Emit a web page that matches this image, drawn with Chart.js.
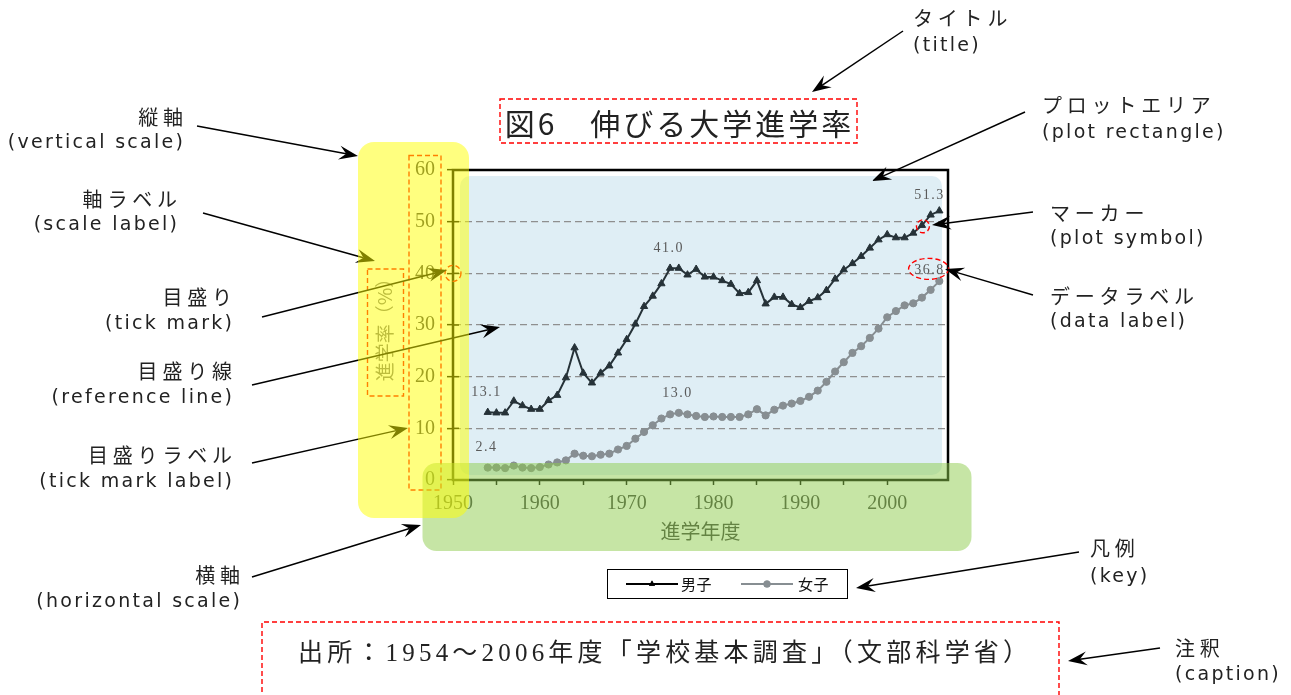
<!DOCTYPE html>
<html><head><meta charset="utf-8">
<script src="https://cdn.jsdelivr.net/npm/chart.js@4.4.0/dist/chart.umd.min.js"></script>
<style>html,body{margin:0;padding:0;background:#fff;overflow:hidden}#wrap{position:relative;width:1291px;height:695px}canvas{display:block}</style>
</head><body><div id="wrap"><canvas id="c" width="1291" height="695"></canvas></div>
<script>
// ---------- data ----------
const years = [1954,1955,1956,1957,1958,1959,1960,1961,1962,1963,
  1964,1965,1966,1967,1968,1969,1970,1971,1972,1973,
  1974,1975,1976,1977,1978,1979,1980,1981,1982,1983,
  1984,1985,1986,1987,1988,1989,1990,1991,1992,1993,
  1994,1995,1996,1997,1998,1999,2000,2001,2002,2003,
  2004,2005,2006];
const maleRate = [13.1,13.0,13.0,15.3,14.4,13.7,13.7,15.4,16.4,19.8,
  25.6,20.7,18.8,20.7,22.1,24.6,27.2,30.2,33.6,35.6,
  38.0,41.0,41.0,39.7,40.8,39.3,39.3,38.6,37.9,36.1,
  36.3,38.6,34.1,35.4,35.4,34.0,33.4,34.6,35.3,36.7,
  38.9,40.7,41.9,43.3,44.9,46.5,47.5,46.9,46.9,47.8,
  49.3,51.3,52.1];
const femaleRate = [2.4,2.4,2.3,2.8,2.4,2.3,2.5,3.0,3.4,3.8,
  5.1,4.7,4.6,4.9,5.1,5.9,6.6,8.0,9.3,10.6,
  11.9,12.7,13.0,12.7,12.4,12.2,12.3,12.2,12.2,12.2,
  12.7,13.7,12.5,13.6,14.4,14.8,15.3,16.1,17.3,19.0,
  21.0,22.8,24.6,25.9,27.5,29.3,31.5,32.7,33.8,34.2,
  35.3,36.8,38.5];
const seriesNames = ['男子','女子'];
const xTickLabels = ['1950','1960','1970','1980','1990','2000'];
const yTickValues = [0,10,20,30,40,50,60];
const labelYearsMale = [1954,1975,2005];
const labelYearsFemale = [1954,1976,2005];
const titleText = '図6　伸びる大学進学率';
const yAxisTitle = '進学率（%）';
const xAxisTitle = '進学年度';
const captionText = '出所：1954～2006年度「学校基本調査」（文部科学省）';

// ---------- styles ----------
const JP = '"Noto Sans CJK JP", sans-serif';
const LAT = '"DejaVu Sans", "Noto Sans CJK JP", sans-serif';
const SERIF = '"Liberation Serif", "Noto Sans CJK JP", serif';
const MALE_COLOR = '#263238';
const FEMALE_COLOR = '#878e92';

function txt(ctx, s, x, y, font, color, align, spacing) {
  ctx.save();
  ctx.font = font; ctx.fillStyle = color; ctx.textAlign = align || 'left'; ctx.textBaseline = 'middle';
  spacing = spacing || 0;
  if ('letterSpacing' in ctx) ctx.letterSpacing = spacing + 'px';
  let xx = x;
  if (align === 'right') xx += spacing; else if (align === 'center') xx += spacing / 2;
  ctx.fillText(s, xx, y);
  ctx.restore();
}
function rr(ctx, x, y, w, h, r) {
  ctx.beginPath();
  if (ctx.roundRect) ctx.roundRect(x, y, w, h, r);
  else { ctx.moveTo(x + r, y); ctx.arcTo(x + w, y, x + w, y + h, r); ctx.arcTo(x + w, y + h, x, y + h, r); ctx.arcTo(x, y + h, x, y, r); ctx.arcTo(x, y, x + w, y, r); ctx.closePath(); }
}
function redDash(ctx) { ctx.strokeStyle = '#ff0000'; ctx.lineWidth = 1.4; ctx.setLineDash([5, 3]); }
function arrow(ctx, x1, y1, x2, y2) {
  const a = Math.atan2(y2 - y1, x2 - x1);
  const L = 19, Wd = 7, N = 12;
  ctx.save();
  ctx.strokeStyle = '#000'; ctx.fillStyle = '#000'; ctx.lineWidth = 1.5; ctx.setLineDash([]);
  ctx.beginPath(); ctx.moveTo(x1, y1); ctx.lineTo(x2 - Math.cos(a) * N, y2 - Math.sin(a) * N); ctx.stroke();
  ctx.translate(x2, y2); ctx.rotate(a);
  ctx.beginPath(); ctx.moveTo(0, 0); ctx.lineTo(-L, -Wd); ctx.lineTo(-N, 0); ctx.lineTo(-L, Wd); ctx.closePath(); ctx.fill();
  ctx.restore();
}

const leftNotes = [
  ['縦軸', '(vertical scale)', 183, 117, 143],
  ['軸ラベル', '(scale label)', 177, 199, 225],
  ['目盛り', '(tick mark)', 232, 297, 324],
  ['目盛り線', '(reference line)', 232, 371, 398],
  ['目盛りラベル', '(tick mark label)', 232, 455, 482],
  ['横軸', '(horizontal scale)', 240, 575, 602]
];
const rightNotes = [
  ['タイトル', '(title)', 913, 18, 46],
  ['プロットエリア', '(plot rectangle)', 1042, 105, 133],
  ['マーカー', '(plot symbol)', 1050, 213, 239],
  ['データラベル', '(data label)', 1050, 296, 322],
  ['凡例', '(key)', 1090, 548, 577],
  ['注釈', '(caption)', 1175, 648, 675]
];

const decor = {
  id: 'decor',
  beforeDraw(chart) {
    const ctx = chart.ctx, a = chart.chartArea;
    ctx.save();
    ctx.fillStyle = '#fff'; ctx.fillRect(0, 0, chart.width, chart.height);
    ctx.fillStyle = '#dfeef5';
    rr(ctx, a.left + 7, a.top + 6, a.right - a.left - 13, a.bottom - a.top - 11, 10); ctx.fill();
    ctx.restore();
  },
  afterDatasetsDraw(chart) {
    const ctx = chart.ctx;
    const sets = [[0, labelYearsMale], [1, labelYearsFemale]];
    sets.forEach(([di, yrs]) => {
      const meta = chart.getDatasetMeta(di);
      const ds = chart.data.datasets[di];
      yrs.forEach(yr => {
        const i = years.indexOf(yr);
        const el = meta.data[i];
        txt(ctx, ds.data[i].y.toFixed(1), el.x - 2, el.y - 20, '14px ' + SERIF, '#5a5a5a', 'center', 1.5);
      });
    });
  },
  afterDraw(chart) {
    const ctx = chart.ctx, a = chart.chartArea;
    const ys = chart.scales.y;
    ctx.save();
    // plot frame
    ctx.strokeStyle = '#000'; ctx.lineWidth = 2.5; ctx.setLineDash([]);
    ctx.strokeRect(a.left, a.top, a.right - a.left, a.bottom - a.top);
    // inner half of y tick marks
    ctx.lineWidth = 1.5;
    yTickValues.forEach(v => { const p = ys.getPixelForValue(v); ctx.beginPath(); ctx.moveTo(a.left, p); ctx.lineTo(a.left + 6, p); ctx.stroke(); });

    // red dashed marks
    ctx.save(); redDash(ctx);
    ctx.strokeRect(500, 99, 357, 44);                 // title box
    ctx.strokeRect(367.5, 269, 36, 127);              // axis label box
    ctx.strokeRect(409, 155.5, 32, 334.5);            // tick label box
    ctx.beginPath(); ctx.arc(a.left, ys.getPixelForValue(40), 8, 0, Math.PI * 2); ctx.stroke();
    const mMeta = chart.getDatasetMeta(0), fMeta = chart.getDatasetMeta(1);
    const m04 = mMeta.data[years.indexOf(2004)];
    ctx.beginPath(); ctx.arc(m04.x + 1, m04.y + 1, 6.5, 0, Math.PI * 2); ctx.stroke();
    const f05 = fMeta.data[years.indexOf(2005)];
    ctx.beginPath(); ctx.ellipse(f05.x - 2, f05.y - 21, 20, 10.5, 0, 0, Math.PI * 2); ctx.stroke();
    // caption box (open at bottom)
    ctx.beginPath(); ctx.moveTo(262, 700); ctx.lineTo(262, 622); ctx.lineTo(1059, 622); ctx.lineTo(1059, 700); ctx.stroke();
    ctx.restore();

    // arrows
    arrow(ctx, 903, 31, 812, 92);
    arrow(ctx, 1025, 112, 872, 181);
    arrow(ctx, 1033, 212, 932, 225);
    arrow(ctx, 1033, 295, 945, 269);
    arrow(ctx, 1079, 552, 856, 588);
    arrow(ctx, 1160, 648, 1068, 661);
    arrow(ctx, 197, 126, 358, 156);
    arrow(ctx, 203, 213, 375, 261);
    arrow(ctx, 262, 317, 447, 270);
    arrow(ctx, 252, 385, 500, 327);
    arrow(ctx, 252, 463, 408, 428);
    arrow(ctx, 252, 577, 421, 525);

    // overlays
    ctx.fillStyle = 'rgba(141,203,75,0.5)';
    rr(ctx, 422.5, 463, 549, 88, 14); ctx.fill();
    ctx.fillStyle = 'rgba(255,255,0,0.5)';
    rr(ctx, 358, 142, 111, 376, 16); ctx.fill();

    // annotation texts
    leftNotes.forEach(n => {
      txt(ctx, n[0], n[2], n[3], '20px ' + JP, '#222', 'right', 4.8);
      txt(ctx, n[1], n[2], n[4], '19px ' + LAT, '#222', 'right', 2.3);
    });
    rightNotes.forEach(n => {
      txt(ctx, n[0], n[2], n[3], '20px ' + JP, '#222', 'left', 4.8);
      txt(ctx, n[1], n[2], n[4], '19px ' + LAT, '#222', 'left', 2.3);
    });

    // title
    txt(ctx, titleText, 678, 124, '30px ' + JP, '#222', 'center', 3);

    // legend (drawn from dataset styles)
    ctx.lineWidth = 1; ctx.strokeStyle = '#000'; ctx.setLineDash([]);
    ctx.strokeRect(607.5, 569.5, 240, 29);
    const items = [[626, 678, 681], [741, 793, 798]];
    chart.data.datasets.forEach((ds, k) => {
      const [x1, x2, tx] = items[k];
      const cy = 584;
      const col = k === 0 ? '#000' : ds.borderColor;
      ctx.strokeStyle = col; ctx.fillStyle = col; ctx.lineWidth = 2;
      ctx.beginPath(); ctx.moveTo(x1, cy); ctx.lineTo(x2, cy); ctx.stroke();
      ctx.beginPath();
      Chart.helpers.drawPoint(ctx, { pointStyle: ds.pointStyle, radius: 3.5, borderWidth: 0, rotation: 0 }, (x1 + x2) / 2, cy);
      ctx.fill();
      txt(ctx, ds.label, tx, cy, '15px ' + JP, '#111', 'left', 0.5);
    });

    // caption
    txt(ctx, captionText, 663, 654, '25px ' + SERIF, '#222', 'center', 4.2);
    ctx.restore();
  }
};

const maleData = years.map((y, i) => ({ x: y, y: maleRate[i] }));
const femaleData = years.map((y, i) => ({ x: y, y: femaleRate[i] }));

new Chart(document.getElementById('c'), {
  type: 'line',
  data: {
    datasets: [
      { label: seriesNames[0], data: maleData, borderColor: MALE_COLOR, backgroundColor: MALE_COLOR,
        borderWidth: 2, pointStyle: 'triangle', pointRadius: 4.2, pointBorderWidth: 1, tension: 0 },
      { label: seriesNames[1], data: femaleData, borderColor: FEMALE_COLOR, backgroundColor: FEMALE_COLOR,
        borderWidth: 2, pointStyle: 'circle', pointRadius: 3.6, pointBorderWidth: 1, tension: 0 }
    ]
  },
  options: {
    responsive: false, animation: false, devicePixelRatio: 1,
    layout: { padding: { left: 373, top: 170, right: 343, bottom: 145 } },
    plugins: { legend: { display: false }, title: { display: false }, tooltip: { enabled: false } },
    scales: {
      x: {
        type: 'linear', min: 1950, max: 2007,
        afterBuildTicks: s => { s.ticks = s.ticks.filter(t => t.value % 5 === 0 && t.value <= 2005); },
        afterFit: s => { s.height = 70; },
        ticks: { stepSize: 5, autoSkip: false, maxRotation: 0, padding: 7, color: '#3a3a3a',
          font: { family: '"Liberation Serif", serif', size: 20 },
          callback: v => xTickLabels.includes(String(v)) ? String(v) : '' },
        grid: { drawOnChartArea: false, drawTicks: true, tickLength: 5, tickColor: '#000', tickWidth: 1.5 },
        border: { display: true, color: '#000', width: 2 },
        title: { display: true, text: xAxisTitle, color: '#3a3a3a', padding: { top: 0, bottom: 7 },
          font: { family: JP, size: 20 } }
      },
      y: {
        min: 0, max: 60,
        afterFit: s => { s.width = 80; },
        afterBuildTicks: s => { s.ticks = yTickValues.map(v => ({ value: v })); },
        ticks: { stepSize: 10, padding: 12, color: '#404040', font: { family: '"Liberation Serif", serif', size: 20 } },
        grid: { color: '#8f8f8f', lineWidth: 1.3, tickLength: 6, tickColor: '#000', tickWidth: 1.5, tickBorderDash: [] },
        border: { display: true, color: '#000', width: 2, dash: [7, 4] },
        title: { display: true, text: yAxisTitle, color: '#7a7a7a', padding: { top: 0, bottom: 0 },
          font: { family: JP, size: 19 } }
      }
    }
  },
  plugins: [decor]
});
</script>
</body></html>
